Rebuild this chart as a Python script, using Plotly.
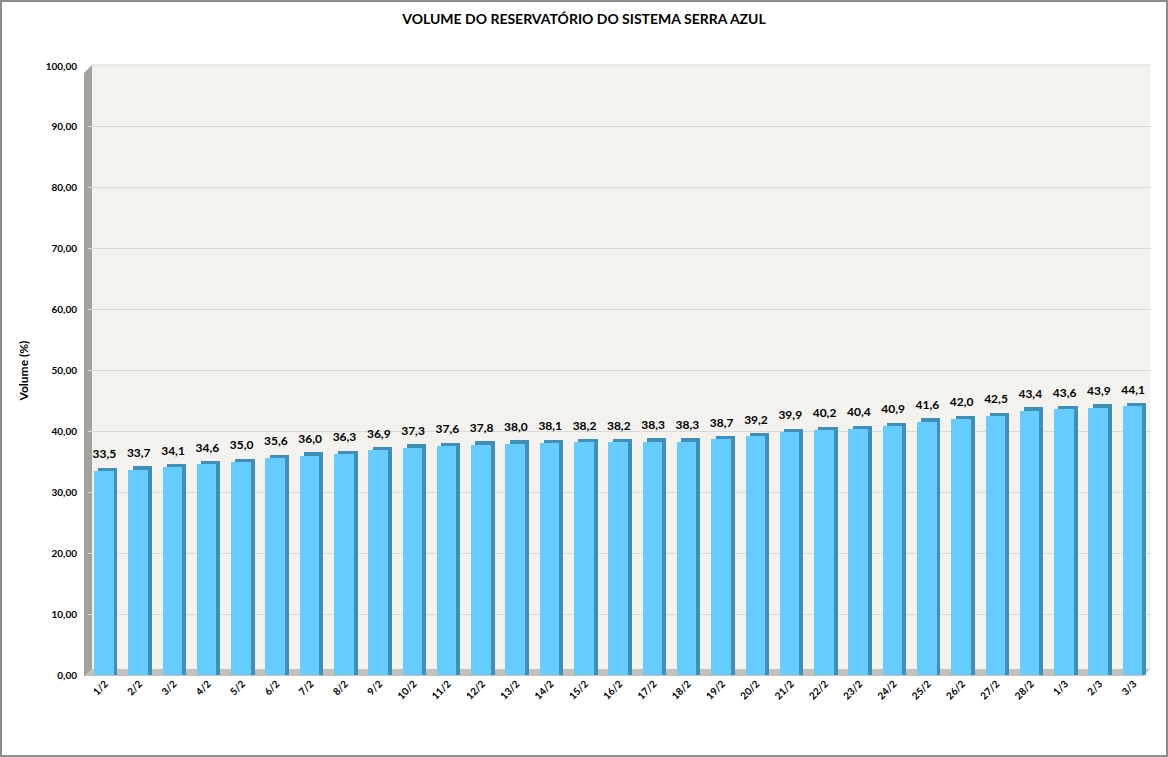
import plotly.graph_objects as go

categories = ["1/2","2/2","3/2","4/2","5/2","6/2","7/2","8/2","9/2","10/2","11/2","12/2","13/2","14/2",
              "15/2","16/2","17/2","18/2","19/2","20/2","21/2","22/2","23/2","24/2","25/2","26/2","27/2",
              "28/2","1/3","2/3","3/3"]
volume = [33.5,33.7,34.1,34.6,35.0,35.6,36.0,36.3,36.9,37.3,37.6,37.8,38.0,38.1,38.2,38.2,38.3,38.3,
          38.7,39.2,39.9,40.2,40.4,40.9,41.6,42.0,42.5,43.4,43.6,43.9,44.1]
y_ticks = [0,10,20,30,40,50,60,70,80,90,100]

W, H = 1168, 757
L, R, T, B = 88, 17, 66, 82
PW, PH = W - L - R, H - T - B

def px(x):
    return (x - L) / PW

def py(y):
    return 1 - (y - T) / PH

FONT = "Lato"
x_idx = list(range(len(categories)))

fig = go.Figure()
# side/top (3D depth) of bars
fig.add_trace(go.Bar(
    x=x_idx, y=[v + 0.55 for v in volume], width=0.56, offset=-0.2,
    marker=dict(color="#3f8fb8", line=dict(width=0)), hoverinfo="skip", showlegend=False))
# front face of bars
fig.add_trace(go.Bar(
    x=x_idx, y=volume, width=0.57, offset=-0.325,
    marker=dict(color="#66ccff", line=dict(width=0)),
    showlegend=False))
# data labels
fig.add_trace(go.Scatter(
    x=[i - 0.02 for i in x_idx], y=volume, mode="markers+text",
    marker=dict(size=14, opacity=0), text=volume, texttemplate="<b>%{y:.1f}</b>",
    textposition="top center", textfont=dict(family=FONT, size=12, color="#000000"),
    cliponaxis=False, hoverinfo="skip", showlegend=False))

shapes = [
    dict(type="rect", xref="paper", yref="paper", x0=px(92), x1=px(1150), y0=py(670), y1=py(65),
         fillcolor="#f3f2ee", line=dict(width=0), layer="below"),
    dict(type="path", xref="paper", yref="paper",
         path=f"M {px(84)} {py(73)} L {px(92)} {py(65)} L {px(92)} {py(670)} L {px(84)} {py(677)} Z",
         fillcolor="#a2a29c", line=dict(width=0), layer="below"),
    dict(type="path", xref="paper", yref="paper",
         path=f"M {px(92)} {py(669)} L {px(1150)} {py(669)} L {px(1143)} {py(676)} L {px(84)} {py(676)} Z",
         fillcolor="#c3c1bb", line=dict(width=0), layer="below"),
    dict(type="line", xref="paper", yref="paper", x0=px(92), x1=px(1150), y0=py(65), y1=py(65),
         line=dict(color="#d9d9d9", width=1), layer="below"),
    dict(type="rect", xref="paper", yref="paper", x0=px(1), x1=px(W - 1), y0=py(H - 1), y1=py(1),
         line=dict(color="#8c8c8c", width=2), fillcolor="rgba(0,0,0,0)"),
]

fig.update_layout(
    width=W, height=H,
    margin=dict(l=L, r=R, t=T, b=B),
    paper_bgcolor="#ffffff", plot_bgcolor="rgba(0,0,0,0)",
    separators=",.",
    barmode="overlay",
    bargap=0,
    title=dict(text="<b>VOLUME DO RESERVATÓRIO DO SISTEMA SERRA AZUL</b>", x=0.5, xanchor="center",
               y=1 - 19 / H, yanchor="middle", xref="container", yref="container",
               font=dict(family=FONT, size=14, color="#000000")),
    shapes=shapes,
    xaxis=dict(
        tickmode="array", tickvals=x_idx, ticktext=[f"<b>{c}</b>" for c in categories],
        tickangle=-45, range=[-0.5, len(categories) - 0.5],
        tickfont=dict(family=FONT, size=10, color="#000000"),
        showgrid=False, zeroline=False, showline=False, ticks="", ticklen=0),
    yaxis=dict(
        range=[0, 100], tickmode="array", tickvals=y_ticks,
        ticktext=[f"<b>{v:.2f}</b>".replace(".", ",") for v in y_ticks],
        tickfont=dict(family=FONT, size=10, color="#000000"),
        showgrid=True, gridcolor="#d9d9d9", gridwidth=1, zeroline=False, showline=False,
        ticks="", ticklabelstandoff=10,
        title=dict(text="<b>Volume (%)</b>", font=dict(family=FONT, size=12, color="#000000"), standoff=14)),
)

fig.write_html("out.html", config={"displayModeBar": False},
               post_script="document.body.style.margin='0';")
